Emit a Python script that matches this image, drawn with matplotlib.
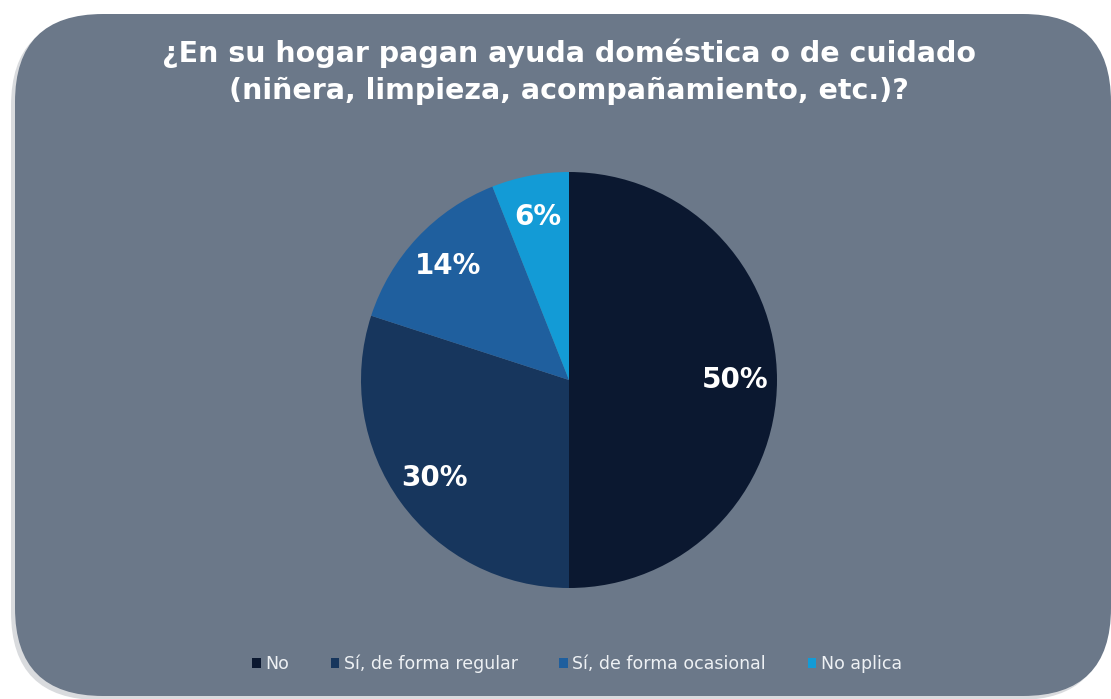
import matplotlib
matplotlib.use("Agg")
import matplotlib.pyplot as plt
from matplotlib.patches import FancyBboxPatch

# Data
categories = ['No', 'Sí, de forma regular', 'Sí, de forma ocasional', 'No aplica']
values = [50, 30, 14, 6]
colors = ['#0b1830', '#17365d', '#1f5f9e', '#139bd6']
title = '¿En su hogar pagan ayuda doméstica o de cuidado\n(niñera, limpieza, acompañamiento, etc.)?'

W, H = 1111, 699
fig = plt.figure(figsize=(W / 100, H / 100), dpi=100)
fig.patch.set_facecolor('white')

# background panel in pixel coordinates
bg = fig.add_axes([0, 0, 1, 1])
bg.set_xlim(0, W)
bg.set_ylim(H, 0)
bg.axis('off')
shadow = FancyBboxPatch((11, 18), 1096, 682, boxstyle='round,pad=0,rounding_size=88',
                        facecolor='#c9ccd0', edgecolor='none', alpha=0.7)
bg.add_patch(shadow)
panel = FancyBboxPatch((15, 14), 1096, 682, boxstyle='round,pad=0,rounding_size=88',
                       facecolor='#6b7889', edgecolor='none')
bg.add_patch(panel)
bg.text(569, 72, title, ha='center', va='center', color='white',
        fontsize=20.5, fontweight='bold', linespacing=1.4)

# pie
cx, cy, r = 569, 380, 208
ax = fig.add_axes([(cx - r) / W, (H - cy - r) / H, 2 * r / W, 2 * r / H])
wedges, texts, autotexts = ax.pie(values, colors=colors, startangle=90, counterclock=False,
                                  autopct='%1.0f%%', pctdistance=0.8,
                                  textprops=dict(color='white', fontsize=20, fontweight='bold'))
ax.set_xlim(-1, 1)
ax.set_ylim(-1, 1)
ax.set_aspect('equal')

leg = fig.legend(wedges, categories, loc='center', bbox_to_anchor=(577 / W, 1 - 664 / H),
                 ncol=4, frameon=False, handlelength=0.5, handleheight=0.5,
                 handletextpad=0.25, columnspacing=2.4, fontsize=12.5)
for t in leg.get_texts():
    t.set_color('#eef1f4')

fig.savefig('out.png', dpi=100, facecolor=fig.get_facecolor())
